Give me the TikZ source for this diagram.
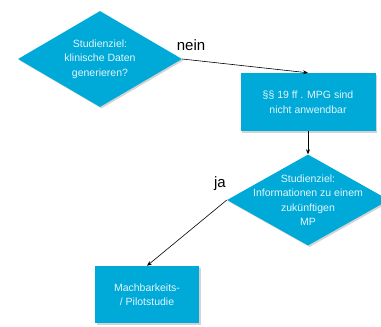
\documentclass[tikz,border=0pt]{standalone}
\usepackage{fontspec}
\setmainfont{Liberation Sans}
\usetikzlibrary{shapes.geometric,arrows.meta,shadows}
\definecolor{boxblue}{HTML}{00AAD8}
\definecolor{boxtext}{HTML}{E2F5FB}
\tikzset{
  shade/.style={drop shadow={shadow xshift=1.5pt,shadow yshift=-1.5pt,opacity=0.35,fill=gray}},
  dia/.style={diamond,fill=boxblue,draw=none,inner sep=0pt,shade},
  rbox/.style={rectangle,fill=boxblue,draw=none,inner sep=0pt,shade},
  txt/.style={text=boxtext,align=center,font=\fontsize{10.5}{14.5}\selectfont},
  conn/.style={-{Stealth[length=5pt,width=4pt]},line width=0.6pt,black},
  lab/.style={font=\fontsize{15}{16}\selectfont,text=black}
}
\begin{document}
\begin{tikzpicture}[x=1pt,y=-1pt]
\useasboundingbox (0,0) rectangle (381,327);
\node[dia,minimum width=164pt,minimum height=96pt] (d1) at (100,59) {};
\node[txt] (t1) at (d1) {Studienziel:\\klinische Daten\\generieren?};
\node[rbox,minimum width=135pt,minimum height=58pt] (r1) at (308,102) {};
\node[txt] (t2) at (r1) {§§ 19 ff . MPG sind\\nicht anwendbar};
\node[dia,minimum width=162pt,minimum height=91pt] (d2) at (308,200) {};
\node[txt] (t3) at (d2) {Studienziel:\\Informationen zu einem\\zukünftigen\\MP};
\node[rbox,minimum width=104pt,minimum height=57pt] (r2) at (147,294.5) {};
\node[txt] (t4) at (r2) {Machbarkeits-\\/ Pilotstudie};
\draw[conn] (d1.east) -- (r1.north);
\draw[conn] (r1.south) -- (d2.north);
\draw[conn] (d2.west) -- (r2.north);
\node[lab] (nein) at (191,45) {nein};
\node[lab] (ja) at (220,184) {ja};
\end{tikzpicture}
\end{document}
